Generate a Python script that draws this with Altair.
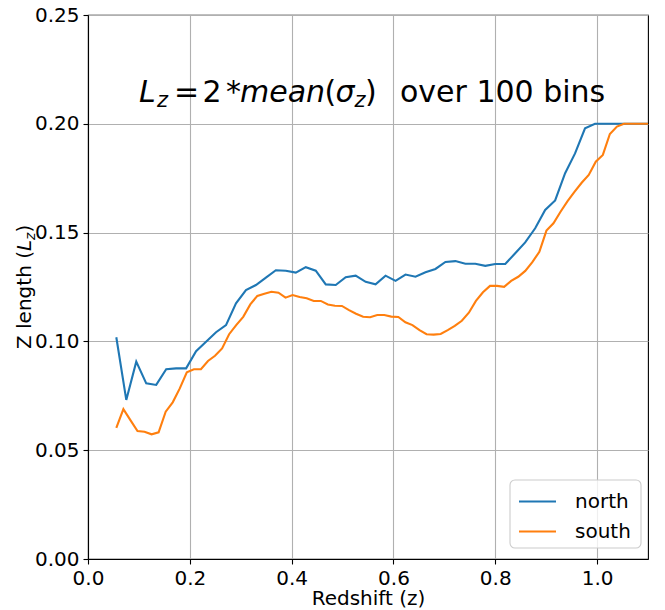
import altair as alt
import pandas as pd

# ---- data ----
z_north = [0.0556, 0.0752, 0.0948, 0.1144, 0.1340, 0.1536, 0.1731, 0.1927, 0.2123, 0.2319,
           0.2515, 0.2711, 0.2907, 0.3103, 0.3299, 0.3495, 0.3690, 0.3886, 0.4082, 0.4278,
           0.4474, 0.4670, 0.4866, 0.5062, 0.5258, 0.5454, 0.5649, 0.5845, 0.6041, 0.6237,
           0.6433, 0.6629, 0.6825, 0.7021, 0.7217, 0.7413, 0.7608, 0.7804, 0.8000, 0.8196,
           0.8392, 0.8588, 0.8784, 0.8980, 0.9176, 0.9372, 0.9567, 0.9763, 0.9959, 1.0155,
           1.0351, 1.0547, 1.0743, 1.0939, 1.1135]
lz_north = [0.1019, 0.0731, 0.0907, 0.0807, 0.0800, 0.0872, 0.0876, 0.0876, 0.0955, 0.0998,
            0.1042, 0.1075, 0.1175, 0.1236, 0.1259, 0.1293, 0.1327, 0.1325, 0.1316, 0.1341,
            0.1325, 0.1262, 0.1259, 0.1295, 0.1302, 0.1274, 0.1262, 0.1302, 0.1278, 0.1307,
            0.1297, 0.1318, 0.1333, 0.1365, 0.1369, 0.1357, 0.1357, 0.1347, 0.1356, 0.1356,
            0.1405, 0.1455, 0.1520, 0.1604, 0.1648, 0.1773, 0.1864, 0.1979, 0.2000, 0.2000,
            0.2000, 0.2000, 0.2000, 0.2000, 0.2000]

z_south = [0.0556, 0.0695, 0.0833, 0.0972, 0.1110, 0.1249, 0.1387, 0.1526, 0.1664, 0.1803,
           0.1941, 0.2080, 0.2218, 0.2357, 0.2495, 0.2634, 0.2772, 0.2911, 0.3049, 0.3188,
           0.3326, 0.3465, 0.3603, 0.3742, 0.3880, 0.4019, 0.4157, 0.4296, 0.4434, 0.4573,
           0.4711, 0.4850, 0.4988, 0.5127, 0.5265, 0.5404, 0.5542, 0.5681, 0.5819, 0.5958,
           0.6096, 0.6235, 0.6373, 0.6512, 0.6650, 0.6789, 0.6927, 0.7066, 0.7204, 0.7343,
           0.7481, 0.7620, 0.7758, 0.7897, 0.8035, 0.8174, 0.8312, 0.8451, 0.8589, 0.8728,
           0.8866, 0.9005, 0.9143, 0.9282, 0.9420, 0.9559, 0.9697, 0.9836, 0.9974, 1.0113,
           1.0251, 1.0390, 1.0528, 1.0667, 1.0805, 1.0944, 1.1082]
lz_south = [0.0603, 0.0689, 0.0638, 0.0588, 0.0585, 0.0573, 0.0582, 0.0677, 0.0720, 0.0784,
            0.0858, 0.0872, 0.0872, 0.0910, 0.0934, 0.0968, 0.1033, 0.1075, 0.1113, 0.1170,
            0.1209, 0.1219, 0.1228, 0.1224, 0.1201, 0.1213, 0.1204, 0.1198, 0.1186, 0.1186,
            0.1170, 0.1164, 0.1163, 0.1144, 0.1127, 0.1113, 0.1111, 0.1121, 0.1121, 0.1114,
            0.1112, 0.1088, 0.1075, 0.1052, 0.1033, 0.1031, 0.1034, 0.1052, 0.1071, 0.1095,
            0.1132, 0.1186, 0.1226, 0.1255, 0.1255, 0.1251, 0.1278, 0.1297, 0.1324, 0.1364,
            0.1412, 0.1509, 0.1543, 0.1596, 0.1645, 0.1688, 0.1729, 0.1765, 0.1826, 0.1857,
            0.1953, 0.1987, 0.2000, 0.2000, 0.2000, 0.2000, 0.2000]

series_names = ["north", "south"]
series_colors = ["#1f77b4", "#ff7f0e"]
x_ticks = [0.0, 0.2, 0.4, 0.6, 0.8, 1.0]
y_ticks = [0.0, 0.05, 0.10, 0.15, 0.20, 0.25]

df = pd.concat([
    pd.DataFrame({"z": z_north, "Lz": lz_north, "series": "north"}),
    pd.DataFrame({"z": z_south, "Lz": lz_south, "series": "south"}),
], ignore_index=True)

FONT = "DejaVu Sans"

lines = alt.Chart(df).mark_line(strokeWidth=2.1, clip=True).encode(
    x=alt.X("z:Q",
            scale=alt.Scale(domain=[0, 1.1], nice=False, zero=False),
            axis=alt.Axis(values=x_ticks, format=".1f", title="Redshift (z)")),
    y=alt.Y("Lz:Q",
            scale=alt.Scale(domain=[0, 0.25], nice=False),
            axis=alt.Axis(values=y_ticks, format=".2f", title=None)),
    color=alt.Color("series:N",
                    scale=alt.Scale(domain=series_names, range=series_colors),
                    legend=None),
)


def txt(s, x, y, size, style="normal", angle=0, baseline="alphabetic"):
    return alt.Chart(pd.DataFrame({"t": [s]})).mark_text(
        text=s, align="left", baseline=baseline, fontSize=size,
        fontStyle=style, font=FONT, angle=angle, color="black"
    ).encode(x=alt.value(x), y=alt.value(y))


BIG = 30
SUB = 21
BL = 86.7
SB = 92.3
title_parts = [
    txt("L", 51, BL, BIG, "italic"),
    txt("z", 69, SB, SUB, "italic"),
    txt("=", 86, BL, BIG),
    txt("2", 114.5, BL, BIG),
    txt("*", 138, BL, BIG),
    txt("mean", 152, BL, BIG, "italic"),
    txt("(", 236.5, BL, BIG),
    txt("σ", 247.5, BL, BIG, "italic"),
    txt("z", 266.5, SB, SUB, "italic"),
    txt(")", 277, BL, BIG),
    txt("over 100 bins", 312, BL, BIG),
]

ylab_parts = [
    txt("Z length (", -57, 334, 20, "normal", 270),
    txt("L", -57, 236, 20, "italic", 270),
    txt("z", -53, 225, 14, "italic", 270),
    txt(")", -57, 217.6, 20, "normal", 270),
]

# ---- legend drawn by hand (box, line samples, labels) ----
legend_box = alt.Chart(pd.DataFrame({"t": [0]})).mark_rect(
    fill="white", fillOpacity=0.8, stroke="#cccccc", strokeWidth=1.1, cornerRadius=5
).encode(x=alt.value(422), x2=alt.value(553), y=alt.value(465), y2=alt.value(533))

legend_parts = [legend_box]
for i, (name, col) in enumerate(zip(series_names, series_colors)):
    yy = 486.5 + 30 * i
    legend_parts.append(
        alt.Chart(pd.DataFrame({"t": [name]})).mark_rule(color=col, strokeWidth=2.1).encode(
            x=alt.value(431), x2=alt.value(468), y=alt.value(yy))
    )
    legend_parts.append(txt(name, 487, yy, 20, baseline="middle"))

chart = alt.layer(lines, *title_parts, *ylab_parts, *legend_parts).properties(
    width=560, height=544,
    autosize=alt.AutoSizeParams(type="none"),
    padding={"left": 80, "top": 7, "right": 9, "bottom": 60},
).configure_axis(
    labelFontSize=20, titleFontSize=20, labelFont=FONT, titleFont=FONT,
    labelColor="black", titleColor="black", titleFontWeight="normal",
    domainColor="black", domainWidth=1.1, tickColor="black", tickWidth=1.1,
    tickSize=5, labelPadding=4, titlePadding=0, labelFlush=False,
    grid=True, gridColor="#b0b0b0", gridWidth=1.1,
).configure_view(stroke="black", strokeWidth=1.1)

chart.save("out.html", embed_options={"renderer": "svg", "actions": False})
